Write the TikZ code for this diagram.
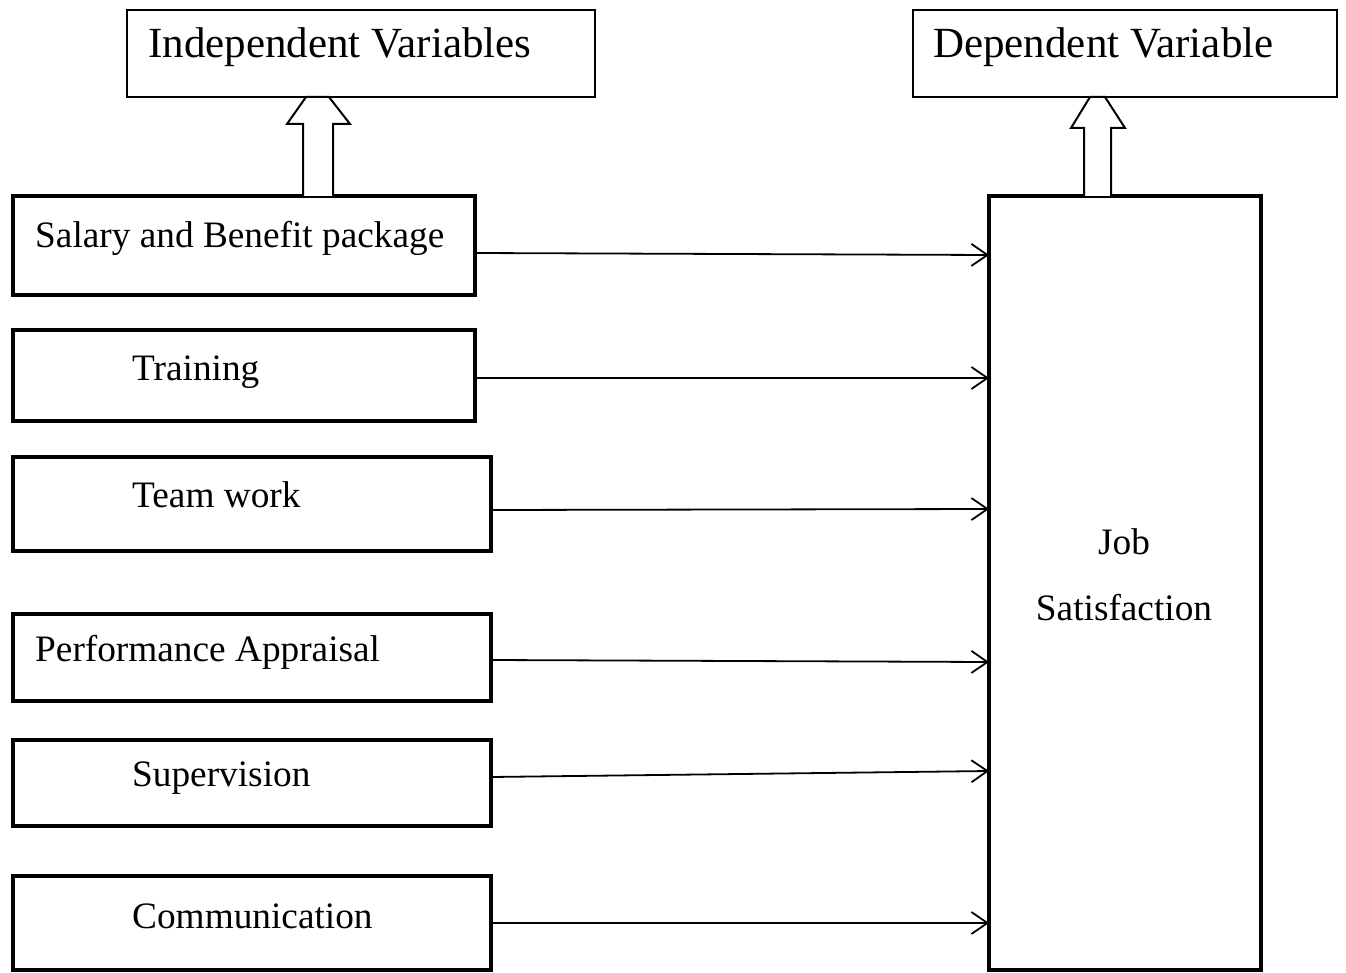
\documentclass[tikz,border=0pt]{standalone}
\usepackage{fontspec}
\setmainfont{Liberation Serif}
\usetikzlibrary{arrows.meta}

\begin{document}
\begin{tikzpicture}[
	x = 1pt, y = -1pt, % work in pixel units, top down
	> = {Straight Barb[length=16pt, width=22pt, line width=1.8pt]}, % open arrow head
	varbox/.style = {draw, line width=2.4pt, inner sep=0pt, outer sep=0pt, fill=white},
	factor/.style = {draw, line width=4pt, inner sep=0pt, outer sep=0pt},
	link/.style = {->, line width=1.8pt},
	hollow/.style = {draw, line width=2pt, line join=miter, fill=white},
	txt/.style = {anchor=base west, inner sep=0pt, font=\fontsize{37.3}{44}\selectfont},
	head/.style = {anchor=base west, inner sep=0pt, font=\fontsize{43}{50}\selectfont}
	]
	
	\useasboundingbox (0,0) rectangle (1346,973);
	
	% header boxes
	\node[varbox, minimum width=468pt, minimum height=87pt] (indep) at (361,53.5) {};
	\node[varbox, minimum width=424pt, minimum height=87pt] (dep) at (1125,53.5) {};
	\node[head] (indepT) at (148,58) {Independent Variables};
	\node[head] (depT) at (933,58) {Dependent Variable};
	
	% factor boxes
	\node[factor, minimum width=462pt, minimum height=99pt] (sal) at (244,245.5) {};
	\node[factor, minimum width=462pt, minimum height=91pt] (train) at (244,375.5) {};
	\node[factor, minimum width=478pt, minimum height=94pt] (team) at (252,504) {};
	\node[factor, minimum width=478pt, minimum height=87pt] (perf) at (252,657.5) {};
	\node[factor, minimum width=478pt, minimum height=86pt] (sup) at (252,783) {};
	\node[factor, minimum width=478pt, minimum height=94pt] (comm) at (252,923) {};
	\node[factor, minimum width=272pt, minimum height=774pt] (job) at (1125,583) {};
	
	\node[txt] (salT) at (35,248) {Salary and Benefit package};
	\node[txt] (trainT) at (132,380) {Training};
	\node[txt] (teamT) at (132,507) {Team work};
	\node[txt] (perfT) at (35,661) {Performance Appraisal};
	\node[txt] (supT) at (132,786) {Supervision};
	\node[txt] (commT) at (132,928) {Communication};
	\node[anchor=base, inner sep=0pt, align=center, font=\fontsize{37.3}{66}\selectfont] (jobT) at (1124,620) {Job\\Satisfaction};
	
	% hollow arrows up to the headers
	\draw[hollow] (303,0 |- sal.north) -- (303,124) -- (287,124) -- (306,0 |- indep.south)
	-- (329,0 |- indep.south) -- (350,124) -- (333,124) -- (333,0 |- sal.north);
	\draw[hollow] (1084,0 |- job.north) -- (1084,128) -- (1071,128) -- (1090,0 |- dep.south)
	-- (1105,0 |- dep.south) -- (1125,128) -- (1111,128) -- (1111,0 |- job.north);
	
	\path[link]
	(sal.east |- 0,253) edge (job.west |- 0,255)
	(train.east |- 0,378) edge (job.west |- 0,378)
	(team.east |- 0,510) edge (job.west |- 0,509)
	(perf.east |- 0,660) edge (job.west |- 0,662)
	(sup.east |- 0,777) edge (job.west |- 0,771)
	(comm.east |- 0,923) edge (job.west |- 0,923);
	
\end{tikzpicture}
\end{document}
